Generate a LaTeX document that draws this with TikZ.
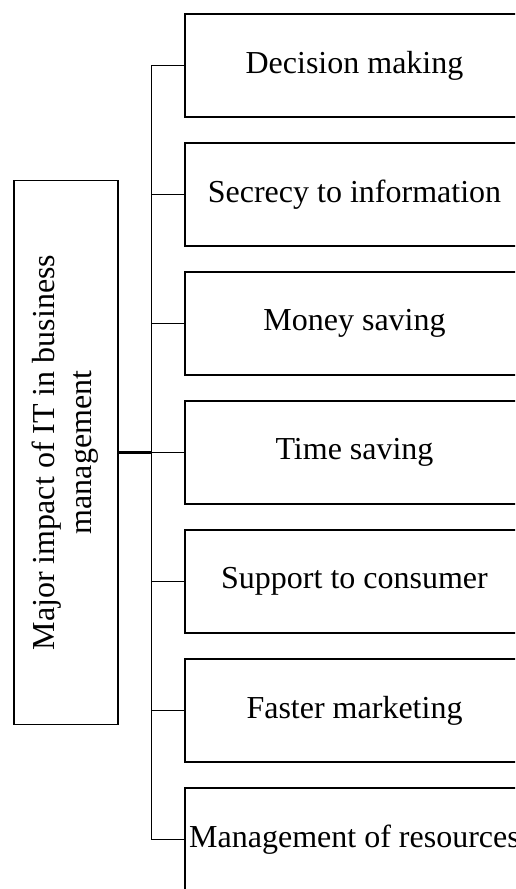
\documentclass[tikz,border=0pt]{standalone}
\usepackage{fontspec}
\usepackage{graphicx}
\setmainfont{Liberation Serif}
\begin{document}
\begin{tikzpicture}[x=1pt,y=1pt,
  itembox/.style={draw, line width=1.5pt, minimum width=339pt, minimum height=103pt,
    inner sep=0pt, font=\fontsize{32}{37}\selectfont},
  mainbox/.style={draw, line width=1.5pt, minimum width=104pt, minimum height=544pt,
    inner sep=0pt, font=\fontsize{32}{37}\selectfont},
  link/.style={line width=1.5pt},
  mainlink/.style={line width=2.2pt}]
\clip (0,0) rectangle (515,889);
% central topic, text turned to read upwards
\node[mainbox] (main) at (66,436.5)
  {\rotatebox{90}{\begin{tabular}{@{}c@{}}Major impact of IT in business\\ management\end{tabular}}};
% the seven impacts
\node[itembox] (b1) at (354.5,823.5) {Decision making};
\node[itembox] (b2) at (354.5,694.5) {Secrecy to information};
\node[itembox] (b3) at (354.5,565.5) {Money saving};
\node[itembox] (b4) at (354.5,436.5) {Time saving};
\node[itembox] (b5) at (354.5,307.5) {Support to consumer};
\node[itembox] (b6) at (354.5,178.5) {Faster marketing};
\node[itembox] (b7) at (354.5,49.5) {Management of resources};
% trunk with its branches
\coordinate (top) at ([xshift=-33pt]b1.west);
\coordinate (bot) at ([xshift=-33pt]b7.west);
\coordinate (hub) at ([xshift=-33pt]b4.west);
\draw[link] (b1.west) -- (top) -- (bot) -- (b7.west);
\foreach \i in {2,...,6}
  \draw[link] (b\i.west) -- ++(-33,0);
\draw[mainlink] (main.east) -- (hub);
\end{tikzpicture}
\end{document}
